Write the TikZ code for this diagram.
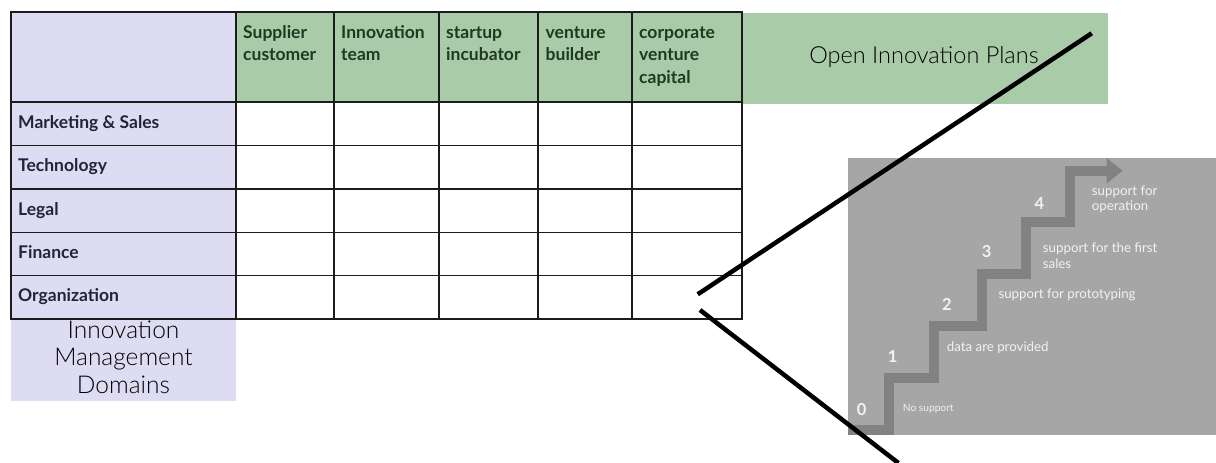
\documentclass[tikz,border=0pt]{standalone}
\usepackage{fontspec}
\setmainfont{Lato}
\newfontfamily\lightfont{Lato Light}
\definecolor{hgreen}{HTML}{A9CBA8}
\definecolor{lav}{HTML}{DEDCF2}
\definecolor{gtext}{HTML}{1F3A20}
\definecolor{ltext}{HTML}{24233A}
\definecolor{panel}{HTML}{A6A6A6}
\definecolor{stair}{HTML}{828282}
\definecolor{gridc}{HTML}{1C1C1C}
\definecolor{stext}{HTML}{F2F2F2}
\tikzset{
  gridline/.style={draw=gridc, line width=1.3pt},
  headtxt/.style={anchor=base west, inner sep=0pt, text width=100pt, align=left, text=gtext,
    font=\bfseries\fontsize{17.5}{22.7}\selectfont},
  rowtxt/.style={anchor=base west, inner sep=0pt, text=ltext, font=\bfseries\fontsize{17.5}{20}\selectfont},
  bigtxt/.style={inner sep=0pt, text=black, font=\lightfont\fontsize{23.5}{27.5}\selectfont},
  numtxt/.style={inner sep=0pt, text=stext, font=\bfseries\fontsize{16.5}{18}\selectfont},
  smalltxt/.style={anchor=west, inner sep=0pt, text=stext, align=left, font=\fontsize{13.3}{15.6}\selectfont},
  zoomline/.style={draw=black, line width=4.5pt}
}
\begin{document}
\begin{tikzpicture}[x=1pt,y=-1pt]
\useasboundingbox (0,0) rectangle (1216,463);
% backgrounds
\fill[hgreen] (236,13) rectangle (1108,104);
\fill[lav] (11,12) rectangle (236,401);
\fill[white] (236,102) rectangle (742,319);
% table grid
\draw[gridline] (11,12) rectangle (742,319);
\foreach \x in {236,334,439,538,632} \draw[gridline] (\x,12) -- (\x,319);
\foreach \y in {102,145.7,189,232.3,275.7} \draw[gridline] (11,\y) -- (742,\y);
% header texts
\node[headtxt] (h1) at (243,38) {Supplier\\customer};
\node[headtxt] (h2) at (341,38) {Innovation\\team};
\node[headtxt] (h3) at (446,38) {startup\\incubator};
\node[headtxt] (h4) at (545.5,38) {venture\\builder};
\node[headtxt] (h5) at (639,38) {corporate\\venture\\capital};
% row texts
\node[rowtxt] (r1) at (18,128.3) {Marketing \& Sales};
\node[rowtxt] (r2) at (18,171.8) {Technology};
\node[rowtxt] (r3) at (18,215.2) {Legal};
\node[rowtxt] (r4) at (18,258.5) {Finance};
\node[rowtxt] (r5) at (18,301.8) {Organization};
% big labels
\node[bigtxt, anchor=base] (oip) at (924,63.5) {Open Innovation Plans};
\node[bigtxt, anchor=base, align=center, font=\lightfont\fontsize{24.5}{27.5}\selectfont] (imd) at (123.5,393.3) {Innovation\\Management\\Domains};
% staircase panel
\fill[panel] (848,157.7) rectangle (1216,435);
\begin{scope}
\clip (848,157.7) rectangle (1216,435);
\draw[stair, line width=10pt, miter limit=10]
  (846,429.5) -| (889,378) -| (933.5,326.3) -| (981.7,274.3) -| (1025.8,222.3) -| (1069.5,170.7) -- (1108,170.7);
\fill[stair] (1106.7,158) -- (1122.5,170.7) -- (1106.7,183.4) -- cycle;
\end{scope}
\node[numtxt] (n0) at (861.7,410) {0};
\node[numtxt] (n1) at (892.7,356.7) {1};
\node[numtxt] (n2) at (947,304) {2};
\node[numtxt] (n3) at (986.7,251.7) {3};
\node[numtxt] (n4) at (1039.3,204) {4};
\node[smalltxt, font=\fontsize{10.2}{12}\selectfont] (s0) at (902.7,408.3) {No support};
\node[smalltxt] (s1) at (946.7,347.3) {data are provided};
\node[smalltxt] (s2) at (998.3,295) {support for prototyping};
\node[smalltxt] (s3) at (1042.7,255.5) {support for the first\\sales};
\node[smalltxt, font=\fontsize{13.3}{14.4}\selectfont] (s4) at (1091.7,199.5) {support for\\operation};
% zoom lines
\coordinate (za) at (697.7,294.3);
\coordinate (zb) at (1091.7,33.3);
\coordinate (zc) at (700,310);
\coordinate (zd) at (898.4,463);
\draw[zoomline] (za) -- (zb);
\draw[zoomline] (zc) -- (zd);
\end{tikzpicture}
\end{document}
